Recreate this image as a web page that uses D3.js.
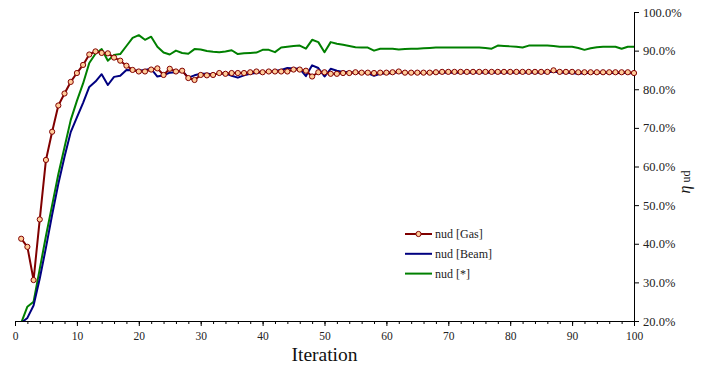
<!DOCTYPE html>
<html>
<head>
<meta charset="utf-8">
<script src="https://cdn.jsdelivr.net/npm/d3@7"></script>
<style>
  body { margin: 0; background: #fff; }
  svg { display: block; font-family: "Liberation Serif", "Times New Roman", serif; }
  .axis text { fill: #222; }
  .axis path, .axis line { stroke: #000; }
</style>
</head>
<body>
<svg id="chart"></svg>
<script>
// iteration numbers 1..100
const iterations = d3.range(1, 101);

// efficiency values in percent, one per iteration
const nudGas = [
  41.3, 39.2, 30.6, 46.3, 61.7, 69.0, 75.8, 78.9, 81.9, 84.2,
  86.3, 89.0, 89.8, 89.4, 89.3, 88.2, 87.4, 86.1, 85.0, 84.6,
  84.6, 85.1, 85.4, 83.7, 85.3, 84.6, 84.8, 82.9, 82.4, 83.7,
  83.6, 83.7, 84.2, 84.0, 84.2, 84.2, 84.2, 84.4, 84.6, 84.4,
  84.6, 84.6, 84.6, 84.6, 85.1, 85.1, 84.8, 83.3, 84.4, 84.4,
  84.0, 84.0, 84.2, 84.2, 84.4, 84.3, 84.3, 84.2, 84.3, 84.3,
  84.4, 84.6, 84.3, 84.3, 84.3, 84.3, 84.3, 84.4, 84.5, 84.5,
  84.5, 84.5, 84.5, 84.5, 84.5, 84.5, 84.5, 84.5, 84.5, 84.5,
  84.5, 84.5, 84.5, 84.5, 84.5, 84.5, 84.9, 84.5, 84.5, 84.5,
  84.4, 84.4, 84.4, 84.4, 84.4, 84.4, 84.4, 84.4, 84.4, 84.2
];
const nudBeam = [
  19.5, 20.8, 24.0, 31.0, 39.0, 47.5, 55.5, 62.5, 68.9, 72.7,
  76.5, 80.6, 82.0, 83.9, 81.1, 83.2, 83.5, 85.0, 84.9, 84.8,
  85.0, 85.3, 83.3, 83.6, 84.3, 84.4, 84.8, 83.0, 83.6, 84.0,
  84.0, 83.9, 84.0, 84.1, 83.5, 83.0, 83.6, 84.0, 84.2, 84.4,
  84.5, 84.7, 85.0, 85.5, 85.4, 85.3, 83.4, 86.2, 85.5, 83.3,
  85.3, 84.8, 84.5, 84.4, 84.3, 84.3, 84.2, 83.5, 84.0, 84.1,
  84.2, 84.4, 84.2, 84.2, 84.2, 84.2, 84.2, 84.3, 84.3, 84.3,
  84.3, 84.3, 84.3, 84.3, 84.3, 84.3, 84.3, 84.3, 84.3, 84.3,
  84.3, 84.3, 84.3, 84.3, 84.3, 84.3, 84.6, 84.3, 84.3, 84.2,
  84.0, 84.2, 84.2, 84.2, 84.2, 84.2, 84.2, 84.2, 84.2, 84.1
];
const nudStar = [
  19.5, 23.7, 25.0, 33.5, 42.0, 50.0, 58.0, 65.0, 72.0, 77.0,
  81.5, 86.8, 89.2, 90.4, 87.4, 88.9, 89.1, 91.2, 93.3, 94.0,
  92.8, 93.6, 91.0, 89.5, 89.0, 90.0, 89.4, 89.2, 90.4, 90.3,
  89.9, 89.7, 89.6, 89.8, 90.1, 89.1, 89.3, 89.4, 89.5, 90.2,
  90.2, 89.6, 90.8, 91.0, 91.2, 91.3, 90.5, 92.8, 92.2, 89.6,
  92.2, 91.8, 91.5, 91.2, 90.9, 90.8, 90.8, 90.0, 90.5, 90.5,
  90.5, 90.3, 90.4, 90.5, 90.5, 90.6, 90.7, 90.8, 90.8, 90.8,
  90.8, 90.8, 90.8, 90.8, 90.8, 90.7, 90.5, 91.3, 91.2, 91.1,
  91.0, 90.8, 91.3, 91.3, 91.3, 91.3, 91.2, 91.0, 91.0, 91.0,
  90.7, 90.2, 90.6, 90.9, 91.0, 91.0, 91.0, 90.5, 91.0, 91.0
];

const seriesNames = ['nud [Gas]', 'nud [Beam]', 'nud [*]'];
const seriesColors = ['#800000', '#000080', '#008000'];
const xTicks = [0, 10, 20, 30, 40, 50, 60, 70, 80, 90, 100];
const yTicks = [0.2, 0.3, 0.4, 0.5, 0.6, 0.7, 0.8, 0.9, 1.0];

const width = 702, height = 366;
const plot = { left: 15, right: 634, top: 12, bottom: 321 };

const svg = d3.select('#chart')
    .attr('width', width)
    .attr('height', height);

svg.append('rect')
    .attr('width', width)
    .attr('height', height)
    .attr('fill', '#fff');

const x = d3.scaleLinear().domain([0, 100]).range([plot.left, plot.right]);
const y = d3.scaleLinear().domain([0.2, 1.0]).range([plot.bottom, plot.top]);

svg.append('clipPath').attr('id', 'plot-clip')
  .append('rect')
    .attr('x', plot.left)
    .attr('y', plot.top)
    .attr('width', plot.right - plot.left + 4)
    .attr('height', plot.bottom - plot.top);

// x axis: minor ticks every 2, labelled ticks every 10
svg.append('g')
    .attr('class', 'axis')
    .attr('transform', `translate(0,${plot.bottom})`)
    .call(d3.axisBottom(x).tickValues(d3.range(0, 101, 2)).tickSize(3).tickFormat(''))
    .call(g => g.select('.domain').remove());

svg.append('g')
    .attr('class', 'axis')
    .attr('transform', `translate(0,${plot.bottom})`)
    .call(d3.axisBottom(x).tickValues(xTicks).tickSize(5).tickSizeOuter(0).tickPadding(6))
    .call(g => g.selectAll('text').attr('font-size', 11.5).attr('font-family', 'Liberation Serif'));

svg.append('g')
    .attr('class', 'axis')
    .attr('transform', `translate(${plot.right},0)`)
    .call(d3.axisRight(y).tickValues(yTicks).tickSize(5).tickSizeOuter(0).tickPadding(4)
        .tickFormat(d3.format('.1%')))
    .call(g => g.selectAll('text').attr('font-size', 12.5).attr('font-family', 'Liberation Serif'));

const line = d3.line()
    .x((d, i) => x(iterations[i]))
    .y(d => y(d / 100));

const lines = svg.append('g').attr('clip-path', 'url(#plot-clip)');
const allSeries = [nudGas, nudBeam, nudStar];

// draw green first, then blue, gas on top
[2, 1, 0].forEach(k => {
    lines.append('path')
        .datum(allSeries[k])
        .attr('fill', 'none')
        .attr('stroke', seriesColors[k])
        .attr('stroke-width', 2)
        .attr('stroke-linejoin', 'round')
        .attr('d', line);
});

lines.selectAll('.marker')
    .data(nudGas)
    .join('circle')
    .attr('class', 'marker')
    .attr('cx', (d, i) => x(iterations[i]))
    .attr('cy', d => y(d / 100))
    .attr('r', 2.6)
    .attr('fill', '#ffcc99')
    .attr('stroke', '#800000')
    .attr('stroke-width', 1);

// legend
const legend = svg.append('g').attr('transform', 'translate(405,234)');
seriesNames.forEach((name, k) => {
    const row = legend.append('g').attr('transform', `translate(0,${k * 19.8})`);
    row.append('line')
        .attr('x1', 0).attr('x2', 27)
        .attr('stroke', seriesColors[k])
        .attr('stroke-width', 2);
    if (k === 0) {
        row.append('circle')
            .attr('cx', 13.5).attr('r', 2.6)
            .attr('fill', '#ffcc99')
            .attr('stroke', '#800000');
    }
    row.append('text')
        .attr('x', 30)
        .attr('dy', '0.35em')
        .attr('font-size', 12)
        .attr('fill', '#222')
        .text(name);
});

// axis titles
svg.append('text')
    .attr('x', (plot.left + plot.right) / 2)
    .attr('y', 361)
    .attr('text-anchor', 'middle')
    .attr('font-size', 19.5)
    .attr('fill', '#111')
    .text('Iteration');

const yTitle = svg.append('text')
    .attr('transform', 'translate(690,182) rotate(-90)')
    .attr('text-anchor', 'middle')
    .attr('font-size', 16)
    .attr('fill', '#111');
yTitle.append('tspan').attr('font-style', 'italic').text('η');
yTitle.append('tspan').attr('font-size', 12).text(' ud');
</script>
</body>
</html>
